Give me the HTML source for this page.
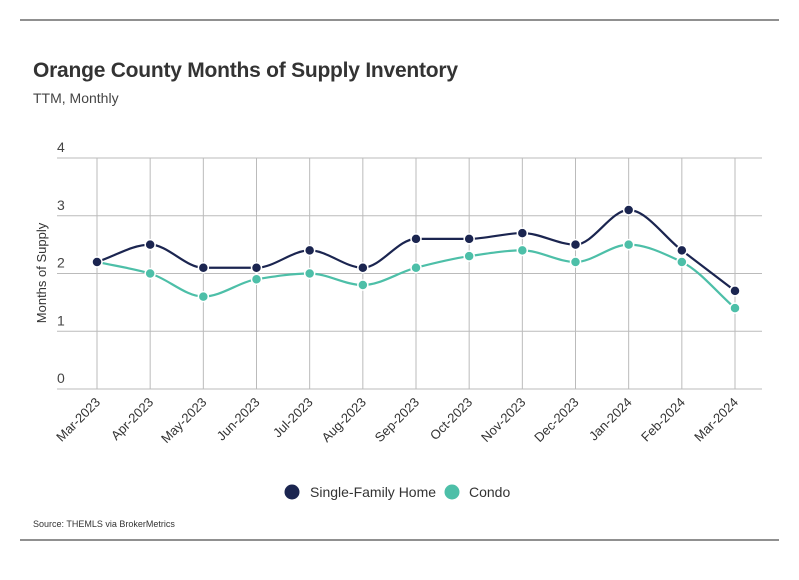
<!DOCTYPE html>
<html><head><meta charset="utf-8"><style>
body{margin:0;background:#fff;font-family:"Liberation Sans",sans-serif;}
svg text{font-family:"Liberation Sans",sans-serif;}
</style></head><body>
<svg id="c" width="799" height="575">
<line x1="20" y1="20" x2="779" y2="20" stroke="#222" stroke-width="1"/>
<text x="33" y="77" font-size="21" font-weight="bold" fill="#333" textLength="425">Orange County Months of Supply Inventory</text>
<text x="33" y="103" font-size="14" fill="#444">TTM, Monthly</text>
<text transform="translate(46,273) rotate(-90)" text-anchor="middle" font-size="13" fill="#333">Months of Supply</text>
<g id="grid"></g><g id="series"></g>
<g>
<circle cx="292" cy="492" r="7.5" fill="#1b2550"/>
<text x="310" y="497" font-size="14" fill="#333">Single-Family Home</text>
<circle cx="452" cy="492" r="7.5" fill="#4dbfa8"/>
<text x="469" y="497" font-size="14" fill="#333">Condo</text>
</g>
<text x="33" y="527" font-size="9" fill="#333">Source:  THEMLS via BrokerMetrics</text>
<line x1="20" y1="540" x2="779" y2="540" stroke="#222" stroke-width="1"/>
</svg>
<script>
const categories=["Mar-2023","Apr-2023","May-2023","Jun-2023","Jul-2023","Aug-2023","Sep-2023","Oct-2023","Nov-2023","Dec-2023","Jan-2024","Feb-2024","Mar-2024"];
const sfhValues=[2.2,2.5,2.1,2.1,2.4,2.1,2.6,2.6,2.7,2.5,3.1,2.4,1.7];
const condoValues=[2.2,2.0,1.6,1.9,2.0,1.8,2.1,2.3,2.4,2.2,2.5,2.2,1.4];
const yTicks=[0,1,2,3,4];
const NS="http://www.w3.org/2000/svg";
const x0=97,x1=735,yb=389,yt=158,ymax=4;
const xs=i=>x0+(x1-x0)*i/(categories.length-1);
const ys=v=>yb-(yb-yt)*v/ymax;
function mk(t,a,p){const e=document.createElementNS(NS,t);for(const k in a)e.setAttribute(k,a[k]);p.appendChild(e);return e;}
const grid=document.getElementById('grid');
yTicks.forEach(v=>{
 const l=mk('line',{x1:57,x2:762,y1:ys(v),y2:ys(v),stroke:'#bbb','stroke-width':1},grid);
 
 
 const t=mk('text',{x:57,y:ys(v)-6,'font-size':14,fill:'#444'},grid);t.textContent=v;
 
 
});
categories.forEach((c,i)=>{
 const l=mk('line',{x1:xs(i),x2:xs(i),y1:yt,y2:yb,stroke:'#bbb','stroke-width':1},grid);
 
 
 const t=mk('text',{transform:`translate(${xs(i)+4},${yb+14}) rotate(-45)`,'text-anchor':'end','font-size':13,fill:'#333'},grid);t.textContent=c;
 
 
});
function monotone(pts){
 const n=pts.length,m=[],d=[];
 for(let i=0;i<n-1;i++)d.push((pts[i+1][1]-pts[i][1])/(pts[i+1][0]-pts[i][0]));
 for(let i=0;i<n;i++){
  if(i==0)m.push(d[0]);else if(i==n-1)m.push(d[n-2]);
  else m.push(d[i-1]*d[i]<=0?0:(2*d[i-1]*d[i])/(d[i-1]+d[i]));
 }
 let s=`M${pts[0][0]},${pts[0][1]}`;
 for(let i=0;i<n-1;i++){const h=(pts[i+1][0]-pts[i][0])/3;
  s+=`C${pts[i][0]+h},${pts[i][1]+m[i]*h} ${pts[i+1][0]-h},${pts[i+1][1]-m[i+1]*h} ${pts[i+1][0]},${pts[i+1][1]}`;}
 return s;
}
const sg=document.getElementById('series');
[[condoValues,'#4dbfa8','condo'],[sfhValues,'#1b2550','sfh']].forEach(([vals,col,nm])=>{
 const pts=vals.map((v,i)=>[xs(i),ys(v)]);
 const p=mk('path',{d:monotone(pts),fill:'none',stroke:col,'stroke-width':2.2},sg);
 
 
 pts.forEach(q=>{const c=mk('circle',{cx:q[0],cy:q[1],r:5,fill:col,stroke:'#fff','stroke-width':1.5},sg);
  
  });
});
</script>
</body></html>
